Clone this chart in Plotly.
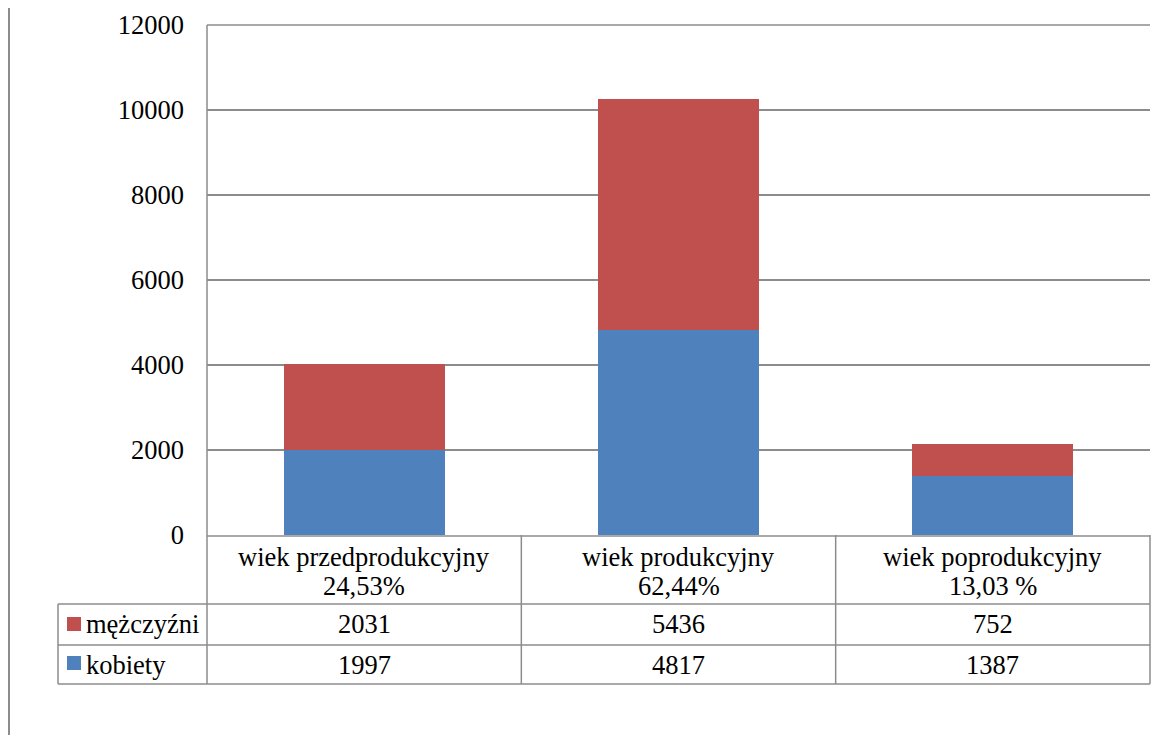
import plotly.graph_objects as go

# ---- data ----
categories = ["wiek przedprodukcyjny", "wiek produkcyjny", "wiek poprodukcyjny"]
shares = ["24,53%", "62,44%", "13,03 %"]
series_names = ["mężczyźni", "kobiety"]
men = [2031, 5436, 752]
women = [1997, 4817, 1387]
y_ticks = [0, 2000, 4000, 6000, 8000, 10000, 12000]

RED = "#C0504D"
BLUE = "#4F81BD"
GRID = "#8C8C8C"
FONT = "Liberation Serif, Times New Roman, serif"
FS = 26.5

OFF = 8  # page body margin
W, H = 1168 - OFF, 735 - OFF
L, R, T, B = 207 - OFF, 1150 - OFF, 25 - OFF, 535 - OFF


def px(xp):
    return (xp - OFF - L) / (R - L)


def py(yp):
    return (B - (yp - OFF)) / (B - T)


xs = list(range(len(categories)))

fig = go.Figure()
fig.add_trace(go.Bar(x=xs, y=women, name=series_names[1], marker=dict(color=BLUE, line=dict(width=0))))
fig.add_trace(go.Bar(x=xs, y=men, name=series_names[0], marker=dict(color=RED, line=dict(width=0))))

shapes = []
line = dict(color=GRID, width=1.5)
# outer chart border (left)
shapes.append(dict(type="line", xref="paper", yref="paper", x0=px(9), x1=px(9), y0=py(8), y1=py(735),
                   line=dict(color=GRID, width=2)))
# top gridline of plot area
shapes.append(dict(type="line", xref="paper", yref="paper", x0=0, x1=1, y0=1, y1=1, line=line))
# vertical axis line extended through the table
shapes.append(dict(type="line", xref="paper", yref="paper", x0=0, x1=0, y0=1, y1=py(684), line=line))
# right border of table
shapes.append(dict(type="line", xref="paper", yref="paper", x0=1, x1=1, y0=0, y1=py(684), line=line))
# column separators
for b in [0.5, 1.5]:
    shapes.append(dict(type="line", xref="x", yref="paper", x0=b, x1=b, y0=0, y1=py(684), line=line))
# horizontal table lines
shapes.append(dict(type="line", xref="paper", yref="paper", x0=0, x1=1, y0=py(536), y1=py(536), line=line))
for yy in [604, 645, 684]:
    shapes.append(dict(type="line", xref="paper", yref="paper", x0=px(58), x1=1, y0=py(yy), y1=py(yy), line=line))
# left edge of legend column
shapes.append(dict(type="line", xref="paper", yref="paper", x0=px(58), x1=px(58), y0=py(604), y1=py(684), line=line))
# legend keys
shapes.append(dict(type="rect", xref="paper", yref="paper", x0=px(67), x1=px(81), y0=py(617), y1=py(631),
                   fillcolor=RED, line=dict(width=0)))
shapes.append(dict(type="rect", xref="paper", yref="paper", x0=px(67), x1=px(81), y0=py(656), y1=py(670),
                   fillcolor=BLUE, line=dict(width=0)))

ann = []
font = dict(family=FONT, size=FS, color="black")
for i, (c, s) in enumerate(zip(categories, shares)):
    ann.append(dict(x=i, y=py(557), xref="x", yref="paper", text=c, showarrow=False, font=font,
                    xanchor="center", yanchor="middle"))
    ann.append(dict(x=i, y=py(586), xref="x", yref="paper", text=s, showarrow=False, font=font,
                    xanchor="center", yanchor="middle"))
    ann.append(dict(x=i, y=py(624), xref="x", yref="paper", text=str(men[i]), showarrow=False, font=font,
                    xanchor="center", yanchor="middle"))
    ann.append(dict(x=i, y=py(665), xref="x", yref="paper", text=str(women[i]), showarrow=False, font=font,
                    xanchor="center", yanchor="middle"))
ann.append(dict(x=px(84), y=py(624), xref="paper", yref="paper", text=series_names[0], showarrow=False,
                font=font, xanchor="left", yanchor="middle"))
ann.append(dict(x=px(84), y=py(665), xref="paper", yref="paper", text=series_names[1], showarrow=False,
                font=font, xanchor="left", yanchor="middle"))

fig.update_layout(
    width=W, height=H,
    margin=dict(l=L, r=W - R, t=T, b=H - B),
    paper_bgcolor="white", plot_bgcolor="white",
    barmode="stack", bargap=0.488,
    showlegend=False,
    font=dict(family=FONT, size=FS, color="black"),
    xaxis=dict(range=[-0.5, 2.5], showticklabels=False, showgrid=False, zeroline=False, showline=False,
               fixedrange=True, automargin=False),
    yaxis=dict(range=[0, 12000], tickvals=y_ticks, ticktext=[str(v) for v in y_ticks], automargin=False,
               showgrid=True, gridcolor=GRID, gridwidth=1.5, zeroline=False, showline=False,
               ticks="", ticklabelstandoff=22, tickfont=dict(family=FONT, size=FS, color="black")),
    shapes=shapes,
    annotations=ann,
)

fig.write_html("out.html")
